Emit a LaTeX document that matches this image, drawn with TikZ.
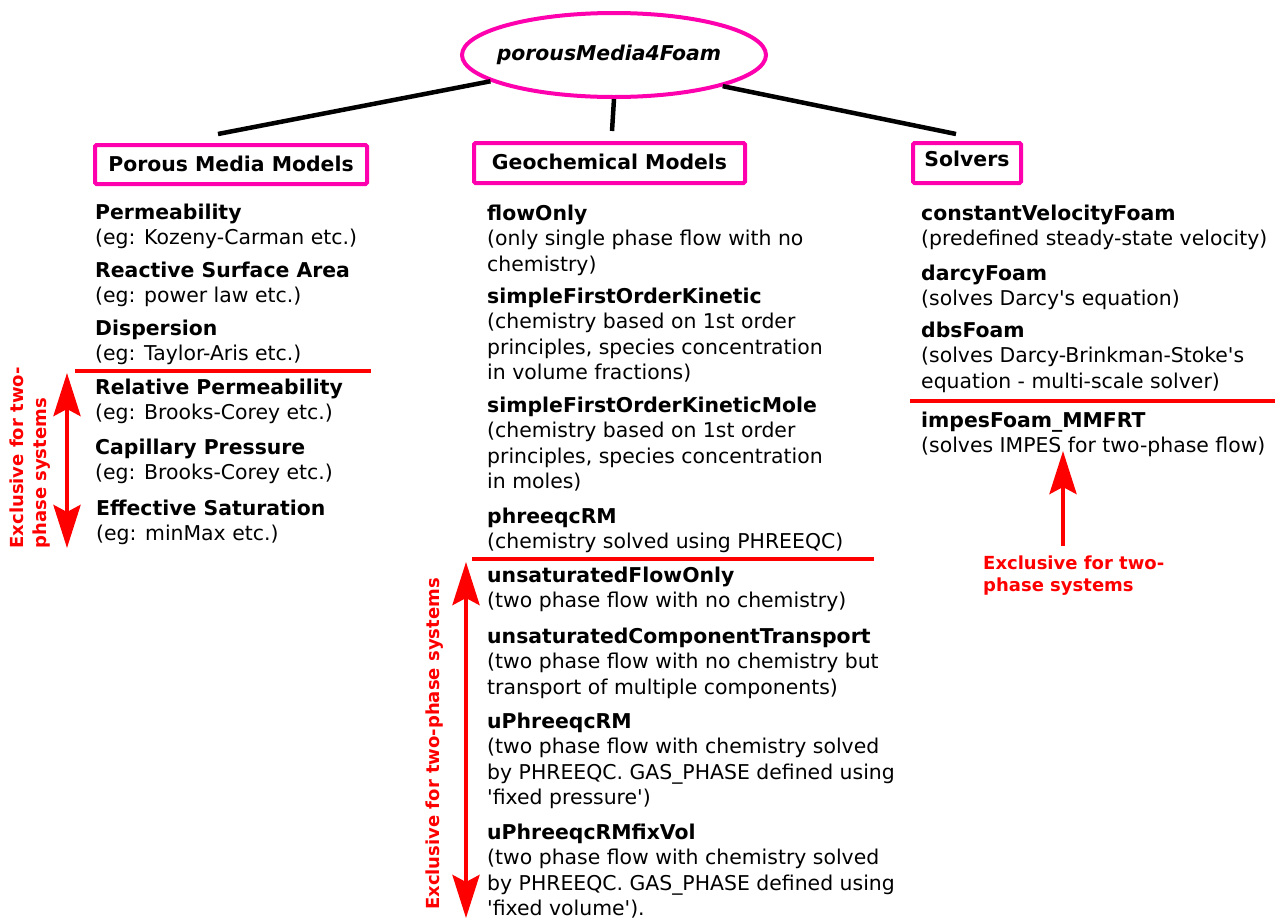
\documentclass[tikz,border=0pt]{standalone}
\usepackage{fontspec}
\setmainfont{DejaVu Sans}[Ligatures=TeXOff]
\usetikzlibrary{shapes.geometric,arrows.meta}
\definecolor{mag}{RGB}{255,0,175}
\definecolor{rd}{RGB}{255,0,0}
\begin{document}
\begin{tikzpicture}[x=1pt,y=-1pt,
  txt/.style={anchor=base west,align=left,inner sep=0pt,font=\fontsize{20.4}{25.5}\selectfont},
  hdr/.style={draw=mag,line width=4pt,rounded corners=1.5pt,inner sep=0pt,text height=15.5pt,font=\fontsize{20.4}{24}\selectfont\bfseries},
  conn/.style={line width=4.5pt},
  sepline/.style={draw=rd,line width=4pt},
  redboth/.style={draw=rd,line width=4.5pt,{Stealth[length=43pt,width=27pt,inset=7pt]}-{Stealth[length=43pt,width=27pt,inset=7pt]}},
  redone/.style={draw=rd,line width=4.5pt,-{Stealth[length=43pt,width=27pt,inset=7pt]}},
  redlbl/.style={text=rd,font=\fontsize{18}{22.5}\selectfont\bfseries,inner sep=0pt,align=left}]
\useasboundingbox (0,0) rectangle (1282,919);
\fill[white] (0,0) rectangle (1282,919);

% root
\node[ellipse,draw=mag,line width=4pt,minimum width=304pt,minimum height=84pt,inner xsep=-8pt,inner ysep=0pt,
      font=\fontsize{20.4}{24}\selectfont\bfseries\itshape] (root) at (614,55) {\hspace*{-5pt}porousMedia4Foam\hspace*{5pt}};

% headers
\node[hdr,text depth=1pt,minimum width=272pt,minimum height=39pt] (pm) at (231,164.5) {Porous Media Models};
\node[hdr,text depth=2.9pt,minimum width=271pt,minimum height=40pt] (gc) at (609.5,163) {Geochemical Models};
\node[hdr,text depth=9.5pt,minimum width=108pt,minimum height=40pt] (sv) at (967,163) {Solvers};

% connectors
\coordinate (pmEnd) at (218,134);
\coordinate (gcEnd) at (612,131);
\coordinate (svEnd) at (956,134);
\draw[conn] (root.192) -- (pmEnd);
\draw[conn] (root.south) -- (gcEnd);
\draw[conn] (root.344.6) -- (svEnd);

% left column (anchor = baseline of last line)
\node[txt] (perm) at (95,244.5) {\textbf{Permeability}\\(eg: Kozeny-Carman etc.)};
\node[txt] (rsa) at (95,302.5) {\textbf{Reactive Surface Area}\\(eg: power law etc.)};
\node[txt] (disp) at (95,360.5) {\textbf{Dispersion}\\(eg: Taylor-Aris etc.)};
\node[txt] (relp) at (95,419.5) {\textbf{Relative Permeability}\\(eg: Brooks-Corey etc.)};
\node[txt] (capp) at (95,479.5) {\textbf{Capillary Pressure}\\(eg: Brooks-Corey etc.)};
\node[txt] (effs) at (96,540.5) {\textbf{Effective Saturation}\\(eg: minMax etc.)};

% middle column
\node[txt] (fo) at (487,271) {\textbf{flowOnly}\\(only single phase flow with no\\chemistry)};
\node[txt] (sfok) at (487,379.5) {\textbf{simpleFirstOrderKinetic}\\(chemistry based on 1st order\\principles, species concentration\\in volume fractions)};
\node[txt] (sfokm) at (487,488.5) {\textbf{simpleFirstOrderKineticMole}\\(chemistry based on 1st order\\principles, species concentration\\in moles)};
\node[txt] (prm) at (487,548.5) {\textbf{phreeqcRM}\\(chemistry solved using PHREEQC)};
\node[txt] (ufo) at (487,607.5) {\textbf{unsaturatedFlowOnly}\\(two phase flow with no chemistry)};
\node[txt] (uct) at (487,694) {\textbf{unsaturatedComponentTransport}\\(two phase flow with no chemistry but\\transport of multiple components)};
\node[txt] (uprm) at (487,804.5) {\textbf{uPhreeqcRM}\\(two phase flow with chemistry solved\\by PHREEQC. GAS\_PHASE defined using\\'fixed pressure')};
\node[txt] (uprmf) at (487,915.5) {\textbf{uPhreeqcRMfixVol}\\(two phase flow with chemistry solved\\by PHREEQC. GAS\_PHASE defined using\\'fixed volume').};

% right column
\node[txt] (cvf) at (921,245.5) {\textbf{constantVelocityFoam}\\(predefined steady-state velocity)};
\node[txt] (df) at (921,305.5) {\textbf{darcyFoam}\\(solves Darcy's equation)};
\node[txt] (dbs) at (921,388) {\textbf{dbsFoam}\\(solves Darcy-Brinkman-Stoke's\\equation - multi-scale solver)};
\node[txt] (imp) at (921,452.5) {\textbf{impesFoam\_MMFRT}\\(solves IMPES for two-phase flow)};

% red separators
\coordinate (sLa) at (75,371); \coordinate (sLb) at (371,371);
\coordinate (sMa) at (472,559); \coordinate (sMb) at (874,559);
\coordinate (sRa) at (910,401); \coordinate (sRb) at (1275,401);
\draw[sepline] (sLa) -- (sLb);
\draw[sepline] (sMa) -- (sMb);
\draw[sepline] (sRa) -- (sRb);

% red arrows
\coordinate (aLt) at (67,373); \coordinate (aLb) at (67,548);
\coordinate (aMt) at (466,562); \coordinate (aMb) at (466,918);
\coordinate (aRs) at (1063,546); \coordinate (aRe) at (1063,451);
\draw[redboth] (aLt) -- (aLb);
\draw[redboth] (aMt) -- (aMb);
\draw[redone] (aRs) -- (aRe);

% red labels
\node[redlbl,rotate=90] (exL) at (30,458) {Exclusive for two-\\phase systems};
\node[redlbl,rotate=90] (exM) at (435,744) {Exclusive for two-phase systems};
\node[redlbl,anchor=base west] (exR) at (983,591.5) {Exclusive for two-\\phase systems};
\end{tikzpicture}
\end{document}
